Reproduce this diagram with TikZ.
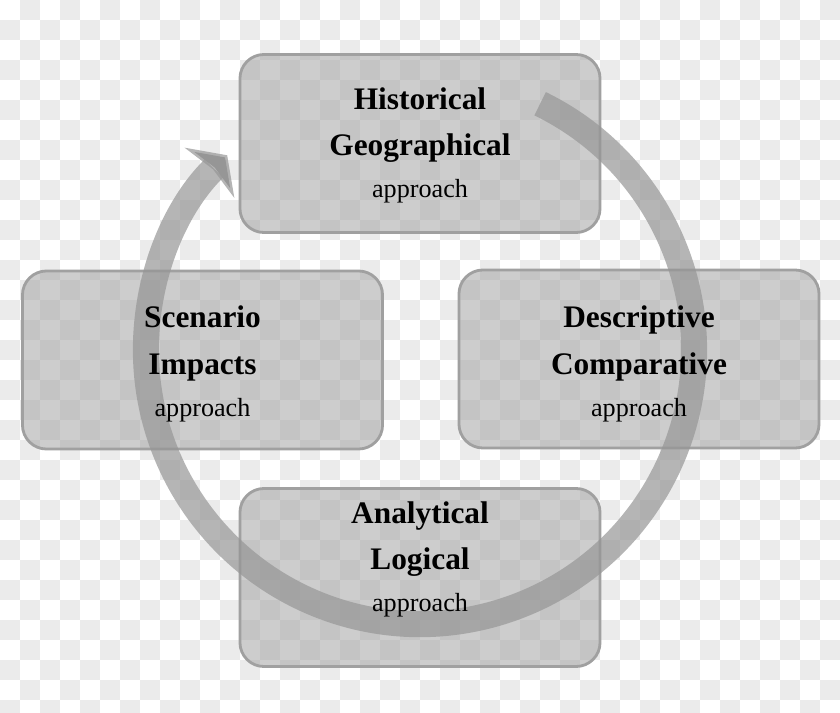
\documentclass[tikz,border=0pt]{standalone}
\usepackage{fontspec}
\setmainfont{Liberation Serif}
\usetikzlibrary{arrows.meta,calc}
\definecolor{checkgray}{RGB}{235,235,235}
\definecolor{boxfill}{RGB}{171,171,171}
\definecolor{boxedge}{RGB}{160,160,160}
\definecolor{cyclegray}{RGB}{150,150,150}
\tikzset{
    approachbox/.style={draw=boxedge,line width=2pt,fill=boxfill,fill opacity=0.6,
        rounded corners=0.6cm,minimum width=9cm,minimum height=4.45cm},
    boxtext/.style={align=center,text=black,
        font=\fontsize{22.3}{33}\selectfont\bfseries},
    cyclearrow/.style={draw=cyclegray,draw opacity=0.7,line width=0.65cm,
        -{Stealth[length=0.62cm,width=1.75cm,inset=0.12cm]}}
}
\newcommand{\approachline}{{\fontsize{18.6}{22}\selectfont\mdseries approach}}

\begin{document}
\begin{tikzpicture}[x=0.025cm,y=0.025cm]
    \useasboundingbox (0,0) rectangle (840,712);
    \clip (0,0) rectangle (840,712);

    % transparent background checks
    \foreach \i in {0,...,41}
        \foreach \j in {0,...,35}
            {\ifodd\numexpr\i+\j\relax
                \fill[checkgray] (20*\i,712-20*\j) rectangle ++(20,-20);
             \fi}

    % the four approaches
    \node[approachbox] (histbox) at (420,568.5) {};
    \node[approachbox] (scenbox) at (202.5,352) {};
    \node[approachbox] (descbox) at (639,353) {};
    \node[approachbox] (analbox) at (420,134.5) {};

    % cycle round the boxes
    \coordinate (hub) at (420,362);
    \draw[cyclearrow] ($(hub)+(64:274)$) coordinate (tail)
        arc[start angle=64,end angle=-225.3,radius=6.85cm] coordinate (head);

    % labels
    \node[boxtext] (histtext) at ([yshift=-0.05cm]histbox.center) {Historical\\Geographical\\[-3pt]\approachline};
    \node[boxtext] (scentext) at ([yshift=-0.1cm]scenbox.center) {Scenario\\Impacts\\[-3pt]\approachline};
    \node[boxtext] (desctext) at ([yshift=-0.12cm]descbox.center) {Descriptive\\Comparative\\[-3pt]\approachline};
    \node[boxtext] (analtext) at ([yshift=0.45cm]analbox.center) {Analytical\\Logical\\[-3pt]\approachline};
\end{tikzpicture}
\end{document}
